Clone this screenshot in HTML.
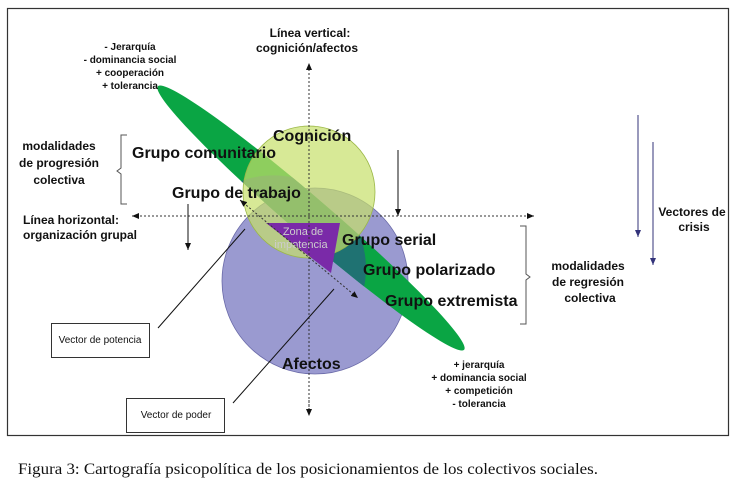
<!DOCTYPE html>
<html><head><meta charset="utf-8"><style>
html,body{margin:0;padding:0;background:#fff;width:748px;height:488px;overflow:hidden}
svg{display:block}
.b{font-family:"Liberation Sans",sans-serif;font-weight:bold;fill:#111}
</style></head><body>
<svg width="748" height="488" viewBox="0 0 748 488" xmlns="http://www.w3.org/2000/svg">
<defs>
<marker id="a" markerWidth="8" markerHeight="8" refX="7" refY="4" orient="auto" markerUnits="userSpaceOnUse"><path d="M0,1 L7,4 L0,7z" fill="#111"/></marker>
<marker id="ab" markerWidth="8" markerHeight="8" refX="7" refY="4" orient="auto" markerUnits="userSpaceOnUse"><path d="M0,1 L7,4 L0,7z" fill="#33337a"/></marker>
<clipPath id="pc"><circle cx="315" cy="281" r="93"/></clipPath>
</defs>
<rect x="7.5" y="8.5" width="721" height="427" fill="none" stroke="#333" stroke-width="1.2"/>
<circle cx="315" cy="281" r="93" fill="#9a9ad0" stroke="#6a6aa8" stroke-width="0.8"/>
<ellipse cx="311" cy="218" rx="202" ry="19" transform="rotate(40.7 311 218)" fill="#0aa544"/>
<ellipse cx="311" cy="218" rx="202" ry="19" transform="rotate(40.7 311 218)" fill="#1f7272" clip-path="url(#pc)"/>
<circle cx="309" cy="192" r="66" fill="#c6df6a" fill-opacity="0.7" stroke="#9cb848" stroke-width="0.8"/>
<polygon points="266,223 340,223 331,273" fill="#7a2aa8"/>
<text x="303" y="235" font-family="Liberation Sans,sans-serif" font-size="11" fill="#ccc" text-anchor="middle">Zona de</text>
<text x="301" y="248" font-family="Liberation Sans,sans-serif" font-size="11" fill="#ccc" text-anchor="middle">impotencia</text>
<line x1="309" y1="415" x2="309" y2="63" stroke="#333" stroke-dasharray="2,2" marker-end="url(#a)"/>
<line x1="309" y1="400" x2="309" y2="416" stroke="#333" stroke-dasharray="2,2" marker-end="url(#a)"/>
<line x1="534" y1="216" x2="132" y2="216" stroke="#333" stroke-dasharray="2,2" marker-end="url(#a)"/>
<line x1="300" y1="216" x2="534" y2="216" stroke="#333" stroke-dasharray="2,2" marker-end="url(#a)"/>
<line x1="300" y1="250" x2="240" y2="200" stroke="#333" stroke-dasharray="2,2" marker-end="url(#a)"/>
<line x1="300" y1="250" x2="358" y2="298" stroke="#333" stroke-dasharray="2,2" marker-end="url(#a)"/>
<line x1="188" y1="204" x2="188" y2="250" stroke="#111" marker-end="url(#a)"/>
<line x1="398" y1="150" x2="398" y2="216" stroke="#111" marker-end="url(#a)"/>
<line x1="638" y1="115" x2="638" y2="237" stroke="#33337a" marker-end="url(#ab)"/>
<line x1="653" y1="142" x2="653" y2="265" stroke="#33337a" marker-end="url(#ab)"/>
<path d="M127,135 h-6 v33 l-4,3 l4,3 v30 h6" fill="none" stroke="#555"/>
<path d="M520,226 h6 v48 l4,3 l-4,3 v44 h-6" fill="none" stroke="#555"/>
<rect x="51.5" y="323.5" width="98" height="34" fill="#fff" stroke="#333"/>
<text x="100" y="343" font-family="Liberation Sans,sans-serif" font-size="10" fill="#111" text-anchor="middle">Vector de potencia</text>
<rect x="126.5" y="398.5" width="98" height="34" fill="#fff" stroke="#333"/>
<text x="176" y="418" font-family="Liberation Sans,sans-serif" font-size="10" fill="#111" text-anchor="middle">Vector de poder</text>
<line x1="158" y1="328" x2="245" y2="229" stroke="#111"/>
<line x1="233" y1="403" x2="334" y2="289" stroke="#111"/>
<g class="b" font-size="12" text-anchor="middle">
<text x="310" y="37">Línea vertical:</text>
<text x="307" y="52">cognición/afectos</text>
<text x="59" y="150">modalidades</text>
<text x="59" y="167">de progresión</text>
<text x="59" y="184">colectiva</text>
<text x="71" y="224">Línea horizontal:</text>
<text x="80" y="239">organización grupal</text>
<text x="588" y="270">modalidades</text>
<text x="588" y="286">de regresión</text>
<text x="590" y="302">colectiva</text>
<text x="692" y="216">Vectores de</text>
<text x="694" y="231">crisis</text>
</g>
<g class="b" font-size="10" text-anchor="middle">
<text x="130" y="50">- Jerarquía</text>
<text x="130" y="63">- dominancia social</text>
<text x="130" y="76">+ cooperación</text>
<text x="130" y="89">+ tolerancia</text>
<text x="479" y="368">+ jerarquía</text>
<text x="479" y="381">+ dominancia social</text>
<text x="479" y="394">+ competición</text>
<text x="479" y="407">- tolerancia</text>
</g>
<g class="b" font-size="16">
<text x="273" y="141">Cognición</text>
<text x="132" y="158">Grupo comunitario</text>
<text x="172" y="198">Grupo de trabajo</text>
<text x="342" y="245">Grupo serial</text>
<text x="363" y="275">Grupo polarizado</text>
<text x="385" y="306">Grupo extremista</text>
<text x="282" y="369">Afectos</text>
</g>
<text x="18" y="474" font-family="Liberation Serif,serif" font-size="16" fill="#111" textLength="580" lengthAdjust="spacingAndGlyphs">Figura 3: Cartografía psicopolítica de los posicionamientos de los colectivos sociales.</text>
</svg>
</body></html>
